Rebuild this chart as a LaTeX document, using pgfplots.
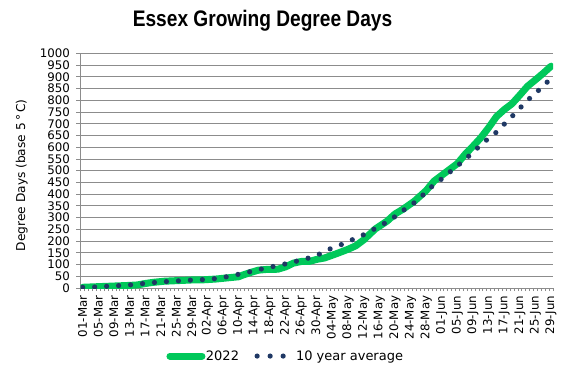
\documentclass[border=0pt]{standalone}
\usepackage{fontspec}
\setmainfont{DejaVu Sans}
\newfontfamily\titlefont[FakeStretch=0.85]{Liberation Sans}
\usepackage{pgfplots}
\pgfplotsset{compat=1.18}
\definecolor{gddgreen}{RGB}{0,200,90}
\definecolor{gddnavy}{RGB}{31,56,100}
\definecolor{gridgray}{RGB}{140,140,140}
\begin{document}
\begin{tikzpicture}
\useasboundingbox (-80.7bp,-93bp) rectangle (486.3bp,288bp);
\begin{axis}[
  scale only axis,
  width=472.3bp, height=234.7bp,
  xmin=-0.5, xmax=120.5, ymin=0, ymax=1000,
  axis lines=left,
  axis line style={-, draw=gridgray, line width=0.8bp},
  tick align=outside,
  ytick={0,50,...,1000},
  ymajorgrids,
  major grid style={draw=gridgray, line width=0.8bp},
  major tick length=4.5bp,
  minor tick length=3bp,
  y tick style={draw=gridgray, line width=0.8bp},
  xtick={0,4,...,120},
  x tick style={draw=none},
  minor xtick={-0.5,0.5,...,120.5},
  minor x tick style={draw=gridgray, line width=0.6bp},
  xticklabels={01-Mar,05-Mar,09-Mar,13-Mar,17-Mar,21-Mar,25-Mar,29-Mar,02-Apr,06-Apr,10-Apr,14-Apr,18-Apr,22-Apr,26-Apr,30-Apr,04-May,08-May,12-May,16-May,20-May,24-May,28-May,01-Jun,05-Jun,09-Jun,13-Jun,17-Jun,21-Jun,25-Jun,29-Jun},
  xticklabel shift=3bp,
  xticklabel style={rotate=90, anchor=east, inner sep=0pt, font=\fontsize{11.8bp}{13bp}\selectfont},
  yticklabel style={anchor=east, inner sep=0pt, font=\fontsize{11.8bp}{13bp}\selectfont, xshift=-6bp},
  /pgf/number format/assume math mode=true,
  /pgf/number format/1000 sep={},
  title={Essex Growing Degree Days},
  title style={at={(axis description cs:0.385,1.089)}, anchor=base, inner sep=0pt, font=\titlefont\bfseries\fontsize{22.5bp}{27bp}\selectfont},
  ylabel={Degree Days (base 5\,°\,C)},
  ylabel style={at={(axis description cs:-0.125,0.48)}, anchor=center, font=\fontsize{12.2bp}{14bp}\selectfont},
  legend columns=2,
  legend style={at={(axis description cs:0.4326,-0.29)}, anchor=center, draw=none, fill=none,
    font=\fontsize{13bp}{15bp}\selectfont,
    /tikz/every even column/.append style={column sep=15bp},
    nodes={inner sep=0.5bp}},
]
\addplot[gddgreen, line width=7bp, line join=round, line cap=round,
  legend image code/.code={\path[draw=none] (0bp,0bp) -- (39bp,0bp);\draw[gddgreen, line width=7bp, line cap=round] (3.5bp,0bp) -- (35.5bp,0bp);}]
coordinates {
(0,3) (3,5) (6,7) (9,9) (12,11) (14,13) (16,19) (18,24) (21,29) (25,32) (29,35)
(31,35) (34,38) (37,43) (40,48) (41,55) (43,66) (45,76) (47,79) (50,80) (52,90)
(54,106) (56,113) (58,113) (60,122) (62,128) (65,146) (68,165) (70,180) (72,205)
(75,252) (78,285) (80,315) (82,335) (85,370) (88,415) (90,455) (92,480) (94,505)
(96,530) (98,570) (100,604) (102,640) (104,683) (106,730) (108,760) (110,785)
(112,822) (114,860) (116,887) (118,915) (120,945)
};
\addlegendentry{2022}
\addplot[gddnavy, line width=5.2bp, line cap=round, line join=round, dash pattern=on 0bp off 12bp,
  legend image code/.code={\path[draw=none] (0bp,0bp) -- (41bp,0bp);\draw[gddnavy, line width=5.2bp, line cap=round, dash pattern=on 0bp off 13bp] (2.6bp,0bp) -- (28.8bp,0bp);}]
coordinates {
(0,3) (3,4) (6,7) (9,10) (12,13) (15,18) (18,23) (21,27) (24,30) (27,33) (30,35)
(33,38) (36,45) (39,55) (42,66) (45,78) (48,89) (51,99) (54,111) (57,123) (60,139)
(63,164) (66,183) (69,205) (72,227) (74,245) (77,272) (80,304) (82,329) (85,364)
(87,393) (89,426) (92,465) (94,493) (96,520) (99,563) (101,594) (103,624) (106,664)
(108,698) (110,731) (112,766) (114,800) (117,845) (119,877) (120,888)
};
\addlegendentry{10 year average}
\end{axis}
\end{tikzpicture}
\end{document}
